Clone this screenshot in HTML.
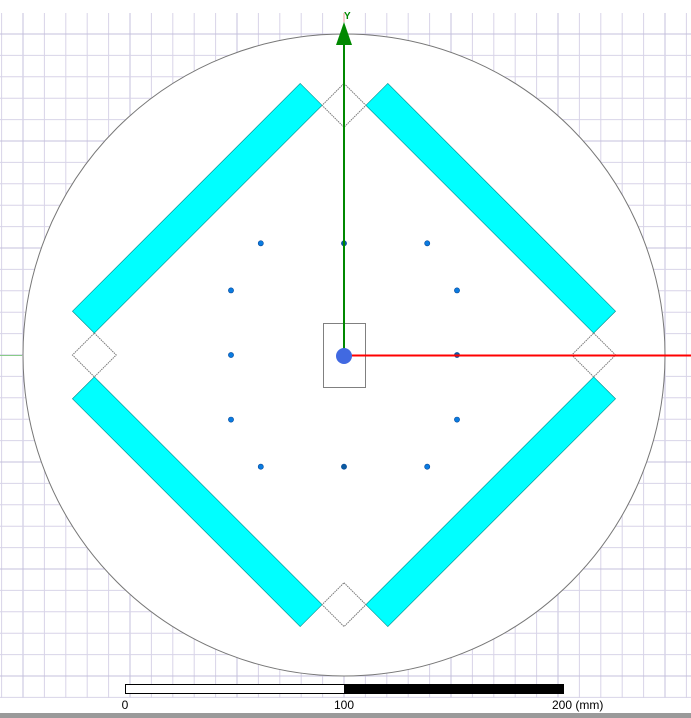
<!DOCTYPE html>
<html><head><meta charset="utf-8"><style>
html,body{margin:0;padding:0;background:#fff;width:691px;height:718px;overflow:hidden}
svg{display:block}
text{font-family:"Liberation Sans",sans-serif}
</style></head><body>
<svg id="c" width="691" height="718" viewBox="0 0 691 718" xmlns="http://www.w3.org/2000/svg">
<g id="grid"></g>
<circle cx="344" cy="355" r="321" fill="#fff" stroke="#777" stroke-width="1"/>
<g id="shapes"></g>
<g id="dots"></g>
<rect x="323.5" y="323.5" width="42" height="64" fill="none" stroke="#808080" stroke-width="1"/>
<line x1="344" y1="355.5" x2="691" y2="355.5" stroke="#f00" stroke-width="2"/>
<line x1="0" y1="355.5" x2="22" y2="355.5" stroke="#8c8" stroke-width="1"/>
<line x1="344" y1="355" x2="344" y2="44" stroke="#080" stroke-width="2"/>
<polygon points="344,22 336,45 352,45" fill="#080"/>
<line x1="344" y1="13" x2="344" y2="22" stroke="#e99" stroke-width="1"/>
<text x="344" y="19" font-size="10" fill="#080" font-weight="bold">Y</text>
<circle cx="344" cy="356" r="8" fill="#4169e1"/>
<g>
<rect x="125.5" y="684.5" width="219" height="9" fill="#fff" stroke="#000" stroke-width="1"/>
<rect x="344" y="684" width="220" height="10" fill="#000"/>
<text x="125" y="709" font-size="12" text-anchor="middle">0</text>
<text x="344" y="709" font-size="12" text-anchor="middle">100</text>
<text x="552" y="709" font-size="12">200 (mm)</text>
</g>
<rect x="0" y="713" width="691" height="5" fill="#9a9a9a"/>
</svg>
<script>
const NS="http://www.w3.org/2000/svg";
const cx=344, cy=355, pxPerMm=2.19;
function X(v){return cx+v*pxPerMm;}
function Y(v){return cy-v*pxPerMm;}
// grid
const g=document.getElementById('grid');
const step=21.4;
for(let i=-17;i<=17;i++){
  const x=cx+i*step; if(x<0||x>691) continue;
  const l=document.createElementNS(NS,'line');
  
  
  l.setAttribute('x1',x);l.setAttribute('x2',x);l.setAttribute('y1',13);l.setAttribute('y2',698);
  l.setAttribute('stroke',i%5===0?'#c4c0dc':'#d8d4e8');l.setAttribute('stroke-width',1);
  g.appendChild(l);
}
for(let i=-17;i<=17;i++){
  const y=cy+i*step; if(y<13||y>698) continue;
  const l=document.createElementNS(NS,'line');
  
  
  l.setAttribute('x1',0);l.setAttribute('x2',691);l.setAttribute('y1',y);l.setAttribute('y2',y);
  l.setAttribute('stroke',i%5===0?'#c4c0dc':'#d8d4e8');l.setAttribute('stroke-width',1);
  g.appendChild(l);
}
// cyan bars (mm coords)
const barNames=['bar-upper-left','bar-upper-right','bar-lower-left','bar-lower-right'];
const bars=[
 [[-20,124],[-10,114],[-114,10],[-124,20]],
 [[20,124],[10,114],[114,10],[124,20]],
 [[-20,-124],[-10,-114],[-114,-10],[-124,-20]],
 [[20,-124],[10,-114],[114,-10],[124,-20]]
];
const diamondNames=['diamond-top','diamond-bottom','diamond-left','diamond-right'];
const diamondCenters=[[0,114],[0,-114],[-114,0],[114,0]];
const diamondHalf=10;
const sh=document.getElementById('shapes');
bars.forEach((b,i)=>{
  const p=document.createElementNS(NS,'polygon');
  
  
  p.setAttribute('points',b.map(q=>X(q[0])+','+Y(q[1])).join(' '));
  p.setAttribute('fill','#00ffff');p.setAttribute('stroke','#088');p.setAttribute('stroke-width','0.6');
  sh.appendChild(p);
});
diamondCenters.forEach((d,i)=>{
  const p=document.createElementNS(NS,'polygon');
  
  
  const h=diamondHalf;
  const pts=[[d[0],d[1]+h],[d[0]+h,d[1]],[d[0],d[1]-h],[d[0]-h,d[1]]];
  p.setAttribute('points',pts.map(q=>X(q[0])+','+Y(q[1])).join(' '));
  p.setAttribute('fill','#fff');p.setAttribute('stroke','#777');p.setAttribute('stroke-width','1');p.setAttribute('stroke-dasharray','1.5,0.8');
  sh.appendChild(p);
});
// feed points (mm)
const dotX=[-38,0,38,-51.6,51.6,-51.6,51.6,-51.6,51.6,-38,0,38];
const dotY=[51,51,51,29.5,29.5,0,0,-29.5,-29.5,-51,-51,-51];
const dg=document.getElementById('dots');
dotX.forEach((v,i)=>{
  const c=document.createElementNS(NS,'circle');
  
  
  c.setAttribute('cx',X(v));c.setAttribute('cy',Y(dotY[i]));c.setAttribute('r',2.6);
  c.setAttribute('fill',v===0||dotY[i]===0&&v>0?'#0a5aa0':'#0a7be0');
  c.setAttribute('stroke','#05489a');c.setAttribute('stroke-width','0.6');
  dg.appendChild(c);
});
</script>
</body></html>
